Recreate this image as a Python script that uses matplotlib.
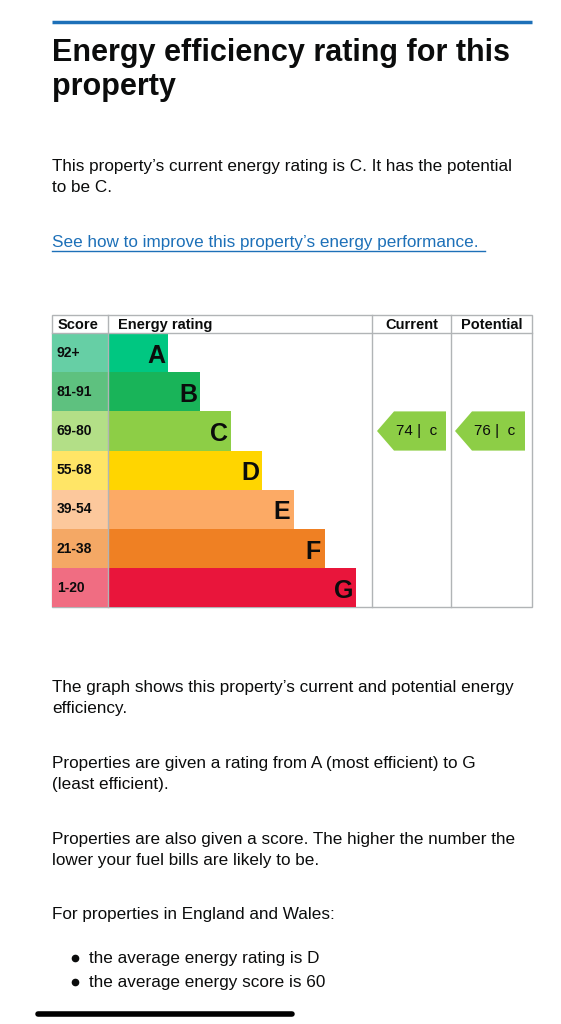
import matplotlib.pyplot as plt
from matplotlib.patches import Rectangle, Polygon

plt.rcParams['font.family'] = ['Liberation Sans', 'DejaVu Sans']

# chart data
letters = ['A', 'B', 'C', 'D', 'E', 'F', 'G']
scores = ['92+', '81-91', '69-80', '55-68', '39-54', '21-38', '1-20']
bar_ends = [168, 200, 231, 262, 294, 325, 356]
bar_colors = ['#00c781', '#19b459', '#8dce46', '#ffd500', '#fcaa65', '#ef8023', '#e9153b']
score_colors = ['#66cfa5', '#5ec17f', '#b3df87', '#ffe566', '#fcc89c', '#f4a865', '#f06d82']
current_score, current_band = 74, 'C'
potential_score, potential_band = 76, 'C'

W, H = 561, 1024
fig = plt.figure(figsize=(W / 100, H / 100), dpi=100)
ax = fig.add_axes([0, 0, 1, 1])
ax.set_xlim(0, W)
ax.set_ylim(H, 0)
ax.axis('off')

TXT = '#0b0c0c'
ax.plot([52, 532], [22, 22], color='#1d70b8', lw=2.5, solid_capstyle='butt')
ax.text(52, 70, 'Energy efficiency rating for this\nproperty', fontsize=22, fontweight='bold',
        color=TXT, va='center', linespacing=1.15)
ax.text(52, 177, "This property’s current energy rating is C. It has the potential\nto be C.",
        fontsize=12.3, color=TXT, va='center', linespacing=1.45)
ax.text(52, 242, "See how to improve this property’s energy performance.", fontsize=12.3,
        color='#1d70b8', va='center')
ax.plot([52, 485], [251, 251], color='#1d70b8', lw=1)

# table
top, head_bot, row_h = 315, 333, 39.2
left, score_r, col1, col2, right = 52, 108, 372, 451, 532
grey = '#b1b4b6'
ax.add_patch(Rectangle((left, top), right - left, head_bot + 7 * row_h - top, fill=False, ec=grey, lw=1))
ax.plot([left, right], [head_bot, head_bot], color=grey, lw=1)
for x in (score_r, col1, col2):
    ax.plot([x, x], [top, head_bot + 7 * row_h], color=grey, lw=1)
hy = (top + head_bot) / 2 + 1
ax.text(58, hy, 'Score', fontsize=10.5, fontweight='bold', va='center', color=TXT)
ax.text(118, hy, 'Energy rating', fontsize=10.5, fontweight='bold', va='center', color=TXT)
ax.text((col1 + col2) / 2, hy, 'Current', fontsize=10.5, fontweight='bold', va='center', ha='center', color=TXT)
ax.text((col2 + right) / 2, hy, 'Potential', fontsize=10.5, fontweight='bold', va='center', ha='center', color=TXT)

for i, (let, sc, end, bc, scc) in enumerate(zip(letters, scores, bar_ends, bar_colors, score_colors)):
    y0 = head_bot + i * row_h
    ax.add_patch(Rectangle((left, y0), score_r - left, row_h, color=scc, lw=0))
    ax.add_patch(Rectangle((score_r, y0), end - score_r, row_h, color=bc, lw=0))
    ax.text(57, y0 + row_h / 2, sc, fontsize=10, fontweight='bold', va='center', color=TXT)
    ax.text(end - 12, y0 + row_h / 2 + 3, let, fontsize=18, fontweight='bold', va='center', ha='center', color=TXT)

def arrow(x_tip, x_end, score, band):
    i = letters.index(band)
    y0 = head_bot + i * row_h
    yc = y0 + row_h / 2
    ax.add_patch(Polygon([(x_tip, yc), (x_tip + 17, y0), (x_end, y0), (x_end, y0 + row_h),
                          (x_tip + 17, y0 + row_h)], closed=True, color=bar_colors[i], lw=0))
    ax.text((x_tip + x_end) / 2 + 5, yc, f'{score} |  {band.lower()}', fontsize=11,
            va='center', ha='center', color=TXT)

arrow(377, 446, current_score, current_band)
arrow(455, 525, potential_score, potential_band)

paras = [
    (698, "The graph shows this property’s current and potential energy\nefficiency."),
    (774, "Properties are given a rating from A (most efficient) to G\n(least efficient)."),
    (850, "Properties are also given a score. The higher the number the\nlower your fuel bills are likely to be."),
    (915, "For properties in England and Wales:"),
]
for y, t in paras:
    ax.text(52, y, t, fontsize=12.3, color=TXT, va='center', linespacing=1.45)
for y, t in [(958, 'the average energy rating is D'), (982, 'the average energy score is 60')]:
    ax.plot(75, y, 'o', color=TXT, ms=4.5)
    ax.text(89, y, t, fontsize=12.3, color=TXT, va='center')

ax.plot([38, 292], [1014, 1014], color='black', lw=4, solid_capstyle='round')

fig.savefig('out.png', dpi=100)
